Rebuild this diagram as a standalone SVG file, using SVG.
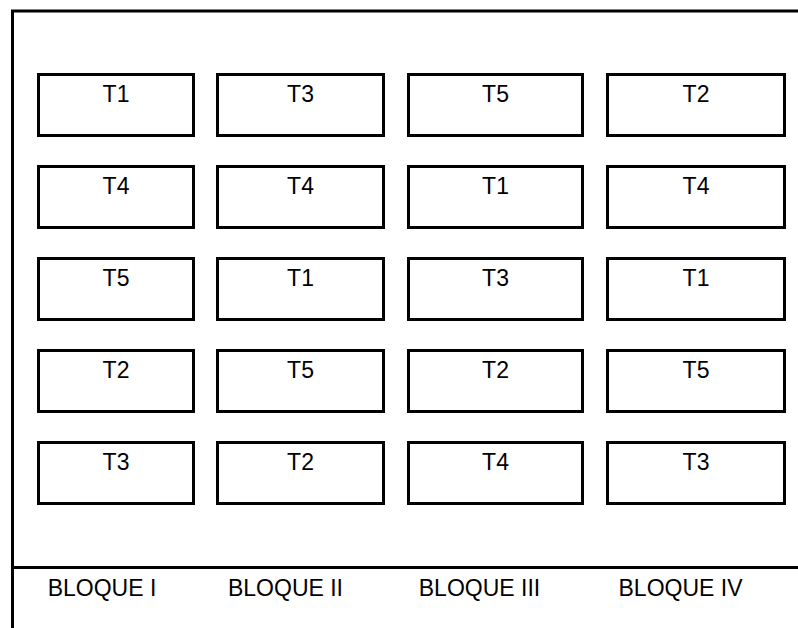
<svg xmlns="http://www.w3.org/2000/svg" width="798" height="628" viewBox="0 0 798 628">
  <style>
    .plot { fill: #ffffff; stroke: #000000; stroke-width: 3; }
    .frame { fill: none; stroke: #000000; stroke-width: 3; }
    .lbl { font-family: "Liberation Sans", Arial, sans-serif; font-size: 23px; fill: #000000; text-anchor: middle; }
  </style>
  <rect x="0" y="0" width="798" height="628" fill="#ffffff"/>

  <!-- field frame: top edge, left edge and the baseline above the block labels -->
  <g id="frame">
    <path class="frame" d="M798,11 H12.5 V628"/>
    <path class="frame" d="M12.5,567.5 H798"/>
  </g>

  <!-- connectors (none in this layout) -->
  <g id="connectors"/>

  <!-- Bloque I -->
  <g id="b1-r1"><rect class="plot" x="38.5" y="74.5" width="155" height="61"/><text class="lbl" x="116" y="101.5">T1</text></g>
  <g id="b1-r2"><rect class="plot" x="38.5" y="166.5" width="155" height="61"/><text class="lbl" x="116" y="193.5">T4</text></g>
  <g id="b1-r3"><rect class="plot" x="38.5" y="258.5" width="155" height="61"/><text class="lbl" x="116" y="285.5">T5</text></g>
  <g id="b1-r4"><rect class="plot" x="38.5" y="350.5" width="155" height="61"/><text class="lbl" x="116" y="377.5">T2</text></g>
  <g id="b1-r5"><rect class="plot" x="38.5" y="442.5" width="155" height="61"/><text class="lbl" x="116" y="469.5">T3</text></g>

  <!-- Bloque II -->
  <g id="b2-r1"><rect class="plot" x="217.5" y="74.5" width="166" height="61"/><text class="lbl" x="300.5" y="101.5">T3</text></g>
  <g id="b2-r2"><rect class="plot" x="217.5" y="166.5" width="166" height="61"/><text class="lbl" x="300.5" y="193.5">T4</text></g>
  <g id="b2-r3"><rect class="plot" x="217.5" y="258.5" width="166" height="61"/><text class="lbl" x="300.5" y="285.5">T1</text></g>
  <g id="b2-r4"><rect class="plot" x="217.5" y="350.5" width="166" height="61"/><text class="lbl" x="300.5" y="377.5">T5</text></g>
  <g id="b2-r5"><rect class="plot" x="217.5" y="442.5" width="166" height="61"/><text class="lbl" x="300.5" y="469.5">T2</text></g>

  <!-- Bloque III -->
  <g id="b3-r1"><rect class="plot" x="408.5" y="74.5" width="174" height="61"/><text class="lbl" x="495.5" y="101.5">T5</text></g>
  <g id="b3-r2"><rect class="plot" x="408.5" y="166.5" width="174" height="61"/><text class="lbl" x="495.5" y="193.5">T1</text></g>
  <g id="b3-r3"><rect class="plot" x="408.5" y="258.5" width="174" height="61"/><text class="lbl" x="495.5" y="285.5">T3</text></g>
  <g id="b3-r4"><rect class="plot" x="408.5" y="350.5" width="174" height="61"/><text class="lbl" x="495.5" y="377.5">T2</text></g>
  <g id="b3-r5"><rect class="plot" x="408.5" y="442.5" width="174" height="61"/><text class="lbl" x="495.5" y="469.5">T4</text></g>

  <!-- Bloque IV -->
  <g id="b4-r1"><rect class="plot" x="607.5" y="74.5" width="177" height="61"/><text class="lbl" x="696" y="101.5">T2</text></g>
  <g id="b4-r2"><rect class="plot" x="607.5" y="166.5" width="177" height="61"/><text class="lbl" x="696" y="193.5">T4</text></g>
  <g id="b4-r3"><rect class="plot" x="607.5" y="258.5" width="177" height="61"/><text class="lbl" x="696" y="285.5">T1</text></g>
  <g id="b4-r4"><rect class="plot" x="607.5" y="350.5" width="177" height="61"/><text class="lbl" x="696" y="377.5">T5</text></g>
  <g id="b4-r5"><rect class="plot" x="607.5" y="442.5" width="177" height="61"/><text class="lbl" x="696" y="469.5">T3</text></g>

  <!-- block labels -->
  <g id="block-labels">
    <text class="lbl" x="102" y="595.5">BLOQUE I</text>
    <text class="lbl" x="285.5" y="595.5">BLOQUE II</text>
    <text class="lbl" x="479.5" y="595.5">BLOQUE III</text>
    <text class="lbl" x="680.5" y="595.5">BLOQUE IV</text>
  </g>
</svg>
